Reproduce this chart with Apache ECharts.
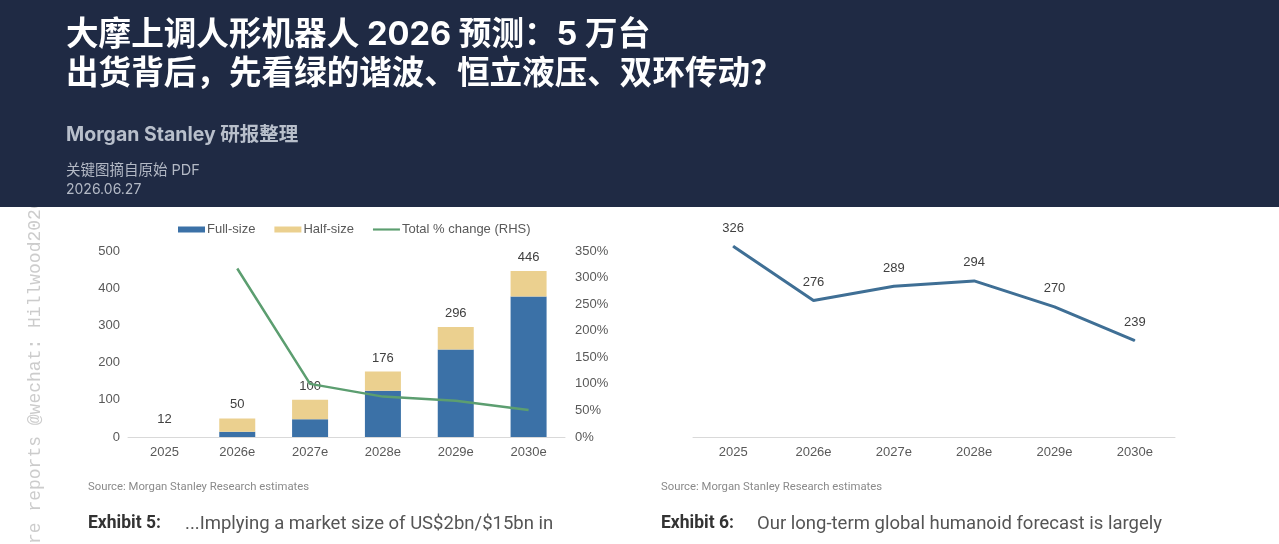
<!DOCTYPE html>
<html>
<head>
<meta charset="utf-8">
<title>大摩上调人形机器人 2026 预测</title>
<script src="https://cdn.jsdelivr.net/npm/echarts@6/dist/echarts.min.js"></script>
<style>
    html, body { margin: 0; padding: 0; background: #fff; }
    #main { width: 1279px; height: 544px; }
</style>
</head>
<body>
<div id="main"></div>
<script>
// Exhibit 5: 出货量 (千台)
var years = ['2025', '2026e', '2027e', '2028e', '2029e', '2030e'];
var fullSize = [null, 14, 48, 124, 235, 378];
var halfSize = [null, 36, 52, 52, 61, 68];
var totals = [12, 50, 100, 176, 296, 446];
var totalChange = [null, 317, 100, 76, 68, 51]; // %

// Exhibit 6
var longTerm = [326, 276, 289, 294, 270, 239];

var titleLine1 = '大摩上调人形机器人 2026 预测：5 万台';
var titleLine2 = '出货背后，先看绿的谐波、恒立液压、双环传动？';

var axisText = { color: '#595959', fontSize: 13, fontFamily: 'Liberation Sans, Arial' };

var chart = echarts.init(document.getElementById('main'));

var option = {
    backgroundColor: '#ffffff',
    animation: false,
    legend: {
        left: 173,
        top: 218,
        itemWidth: 27,
        itemHeight: 6,
        itemGap: 19,
        data: [
            { name: 'Full-size', icon: 'rect' },
            { name: 'Half-size', icon: 'rect' },
            { name: 'Total % change (RHS)', icon: 'path://M0,0L30,0L30,2.4L0,2.4Z' }
        ],
        textStyle: { color: '#595959', fontSize: 13, fontFamily: 'Liberation Sans, Arial', padding: [0, 0, 0, -3] }
    },
    grid: [
        { left: 128, right: 714, top: 251, bottom: 107 },
        { left: 693, right: 104, top: 166, bottom: 107 }
    ],
    xAxis: [{
        type: 'category',
        gridIndex: 0,
        data: years,
        axisLine: { lineStyle: { color: '#d9d9d9' } },
        axisTick: { show: false },
        axisLabel: Object.assign({ margin: 9 }, axisText)
    }, {
        type: 'category',
        gridIndex: 1,
        data: years,
        axisLine: { lineStyle: { color: '#d9d9d9' } },
        axisTick: { show: false },
        axisLabel: Object.assign({ margin: 9 }, axisText)
    }],
    yAxis: [{
        type: 'value',
        gridIndex: 0,
        min: 0,
        max: 500,
        interval: 100,
        splitLine: { show: false },
        axisLine: { show: false },
        axisLabel: Object.assign({ margin: 8 }, axisText)
    }, {
        type: 'value',
        gridIndex: 0,
        position: 'right',
        min: 0,
        max: 350,
        interval: 50,
        splitLine: { show: false },
        axisLine: { show: false },
        axisLabel: Object.assign({ margin: 10, formatter: '{value}%' }, axisText)
    }, {
        type: 'value',
        gridIndex: 1,
        min: 150,
        max: 400,
        show: false
    }],
    series: [{
        name: 'Full-size',
        type: 'bar',
        stack: 'units',
        xAxisIndex: 0,
        yAxisIndex: 0,
        barWidth: 36,
        barGap: '-100%',
        data: fullSize,
        itemStyle: { color: '#3b71a7' }
    }, {
        name: 'Half-size',
        type: 'bar',
        stack: 'units',
        xAxisIndex: 0,
        yAxisIndex: 0,
        barWidth: 36,
        data: halfSize,
        itemStyle: { color: '#ebd08f' }
    }, {
        name: 'total',
        type: 'bar',
        xAxisIndex: 0,
        yAxisIndex: 0,
        barWidth: 36,
        z: 1,
        data: totals,
        itemStyle: { color: 'rgba(0,0,0,0)' },
        label: {
            show: true,
            position: 'top',
            distance: 7,
            color: '#404040',
            fontSize: 13,
            fontFamily: 'Liberation Sans, Arial'
        },
        tooltip: { show: false }
    }, {
        name: 'Total % change (RHS)',
        type: 'line',
        xAxisIndex: 0,
        yAxisIndex: 1,
        data: totalChange,
        symbol: 'none',
        z: 5,
        lineStyle: { color: '#5c9e70', width: 2.5 },
        itemStyle: { color: '#5c9e70' }
    }, {
        name: 'forecast',
        type: 'line',
        xAxisIndex: 1,
        yAxisIndex: 2,
        data: longTerm,
        symbol: 'circle',
        symbolSize: 1,
        lineStyle: { color: '#3f6f95', width: 3 },
        itemStyle: { color: '#3f6f95' },
        label: {
            show: true,
            position: 'top',
            distance: 11,
            color: '#404040',
            fontSize: 13,
            fontFamily: 'Liberation Sans, Arial'
        }
    }],
    graphic: [
        // 左侧竖排水印
        {
            type: 'text',
            x: 44,
            y: 544,
            rotation: Math.PI / 2,
            z: 1,
            style: {
                text: 're reports @wechat: Hillwood2026',
                fill: '#cccccc',
                font: '18px "Liberation Mono", monospace',
                textVerticalAlign: 'bottom'
            }
        },
        // 顶部深色标题栏
        {
            type: 'rect',
            z: 100,
            shape: { x: 0, y: 0, width: 1279, height: 207 },
            style: { fill: '#1f2a44' }
        },
        {
            type: 'text', z: 101, x: 66, y: 35,
            style: {
                text: titleLine1, fill: '#ffffff',
                font: 'bold 32.6px Inter, "Noto Sans CJK SC", sans-serif',
                textVerticalAlign: 'middle'
            }
        },
        {
            type: 'text', z: 101, x: 66, y: 74,
            style: {
                text: titleLine2, fill: '#ffffff',
                font: 'bold 32.6px Inter, "Noto Sans CJK SC", sans-serif',
                textVerticalAlign: 'middle'
            }
        },
        {
            type: 'text', z: 101, x: 66, y: 135,
            style: {
                text: 'Morgan Stanley 研报整理', fill: '#b8bfcb',
                font: 'bold 19.5px Inter, "Noto Sans CJK SC", sans-serif',
                textVerticalAlign: 'middle'
            }
        },
        {
            type: 'text', z: 101, x: 66, y: 171,
            style: {
                text: '关键图摘自原始 PDF', fill: '#b3b9c5',
                font: '14.5px Inter, "Noto Sans CJK SC", sans-serif',
                textVerticalAlign: 'middle'
            }
        },
        {
            type: 'text', z: 101, x: 66, y: 190,
            style: {
                text: '2026.06.27', fill: '#b3b9c5',
                font: '14px Inter, "Noto Sans CJK SC", sans-serif',
                textVerticalAlign: 'middle'
            }
        },
        // 底部来源与图表标题
        {
            type: 'text', x: 88, y: 487,
            style: {
                text: 'Source: Morgan Stanley Research estimates', fill: '#8a8a8a',
                font: '11.3px "Liberation Sans Narrow", Roboto, sans-serif',
                textVerticalAlign: 'middle'
            }
        },
        {
            type: 'text', x: 661, y: 487,
            style: {
                text: 'Source: Morgan Stanley Research estimates', fill: '#8a8a8a',
                font: '11.3px "Liberation Sans Narrow", Roboto, sans-serif',
                textVerticalAlign: 'middle'
            }
        },
        {
            type: 'text', x: 88, y: 524,
            style: {
                text: 'Exhibit 5:', fill: '#333333',
                font: 'bold 17.5px "Liberation Sans Narrow", Roboto, sans-serif',
                textVerticalAlign: 'middle'
            }
        },
        {
            type: 'text', x: 185, y: 524,
            style: {
                text: '...Implying a market size of US$2bn/$15bn in', fill: '#555555',
                font: '18.5px "Liberation Sans Narrow", Roboto, sans-serif',
                textVerticalAlign: 'middle'
            }
        },
        {
            type: 'text', x: 661, y: 524,
            style: {
                text: 'Exhibit 6:', fill: '#333333',
                font: 'bold 17.5px "Liberation Sans Narrow", Roboto, sans-serif',
                textVerticalAlign: 'middle'
            }
        },
        {
            type: 'text', x: 757, y: 524,
            style: {
                text: 'Our long-term global humanoid forecast is largely', fill: '#555555',
                font: '18.5px "Liberation Sans Narrow", Roboto, sans-serif',
                textVerticalAlign: 'middle'
            }
        }
    ]
};

chart.setOption(option);
</script>
</body>
</html>
